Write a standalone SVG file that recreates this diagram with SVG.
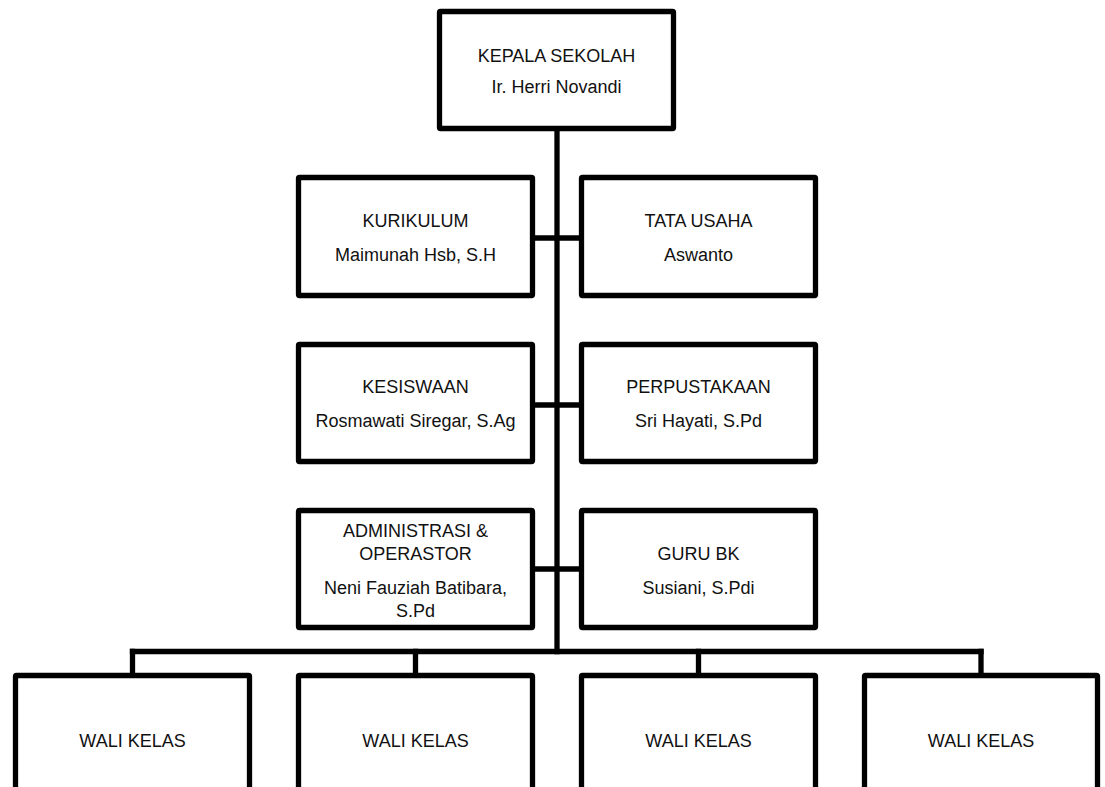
<svg xmlns="http://www.w3.org/2000/svg" width="1105" height="787" viewBox="0 0 1105 787">
<style>
.box{fill:#fff;stroke:#000;stroke-width:5.3;}
.ln{fill:none;stroke:#000;stroke-width:5.3;stroke-linecap:square;}
text{font-family:"Liberation Sans",Arial,sans-serif;font-size:18px;fill:#111;text-anchor:middle;}
</style>
<rect width="1105" height="787" fill="#fff"/>
<g id="connectors">
<path class="ln" d="M557,131 V651.5"/>
<path class="ln" d="M535,238 H579 M535,405 H579 M535,569 H579"/>
<path class="ln" d="M132.5,651.5 H981"/>
<path class="ln" d="M132.5,651.5 V673 M415.5,651.5 V673 M698.5,651.5 V673 M981,651.5 V673"/>
</g>
<g id="kepala">
<rect class="box" x="439.5" y="11.5" width="234" height="117" rx="1"/>
<text x="556.5" y="62">KEPALA SEKOLAH</text>
<text x="556.5" y="93">Ir. Herri Novandi</text>
</g>
<g id="kurikulum">
<rect class="box" x="298.5" y="177.5" width="234" height="118" rx="1"/>
<text x="415.5" y="227">KURIKULUM</text>
<text x="415.5" y="260.5">Maimunah Hsb, S.H</text>
</g>
<g id="tatausaha">
<rect class="box" x="581.5" y="177.5" width="234" height="118" rx="1"/>
<text x="698.5" y="227">TATA USAHA</text>
<text x="698.5" y="260.5">Aswanto</text>
</g>
<g id="kesiswaan">
<rect class="box" x="298.5" y="344.5" width="234" height="117" rx="1"/>
<text x="415.5" y="393">KESISWAAN</text>
<text x="415.5" y="427">Rosmawati Siregar, S.Ag</text>
</g>
<g id="perpustakaan">
<rect class="box" x="581.5" y="344.5" width="234" height="117" rx="1"/>
<text x="698.5" y="393">PERPUSTAKAAN</text>
<text x="698.5" y="427">Sri Hayati, S.Pd</text>
</g>
<g id="administrasi">
<rect class="box" x="298.5" y="510.5" width="234" height="117" rx="1"/>
<text x="415.5" y="537">ADMINISTRASI &amp;</text>
<text x="415.5" y="560">OPERASTOR</text>
<text x="415.5" y="594">Neni Fauziah Batibara,</text>
<text x="415.5" y="617">S.Pd</text>
</g>
<g id="gurubk">
<rect class="box" x="581.5" y="510.5" width="234" height="117" rx="1"/>
<text x="698.5" y="560">GURU BK</text>
<text x="698.5" y="594">Susiani, S.Pdi</text>
</g>
<g id="wali1">
<rect class="box" x="15.5" y="675.5" width="234" height="140" rx="1"/>
<text x="132.5" y="747">WALI KELAS</text>
</g>
<g id="wali2">
<rect class="box" x="298.5" y="675.5" width="234" height="140" rx="1"/>
<text x="415.5" y="747">WALI KELAS</text>
</g>
<g id="wali3">
<rect class="box" x="581.5" y="675.5" width="234" height="140" rx="1"/>
<text x="698.5" y="747">WALI KELAS</text>
</g>
<g id="wali4">
<rect class="box" x="864.5" y="675.5" width="233" height="140" rx="1"/>
<text x="981" y="747">WALI KELAS</text>
</g>
</svg>
